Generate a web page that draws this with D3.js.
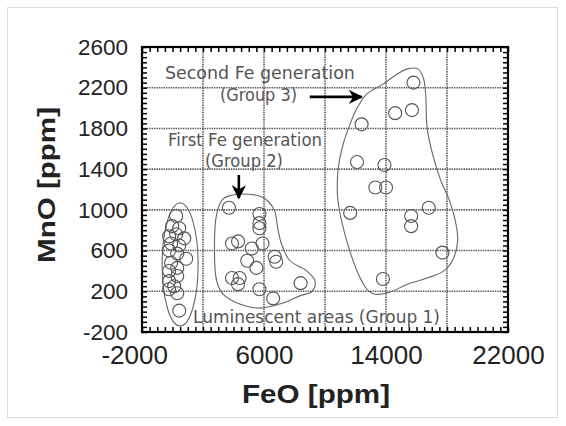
<!DOCTYPE html>
<html>
<head>
  <meta charset="utf-8">
  <title>MnO vs FeO</title>
  <script src="https://d3js.org/d3.v7.min.js"></script>
  <style>
    body { margin: 0; background: #fff; }
    .grid line { stroke: #555; stroke-width: 1.6; stroke-dasharray: 1.4,1; }
    .minor path { display: none; }
    .minor line { stroke: #000; stroke-width: 1.5; }
    .lab path, .lab line { display: none; }
    .lab text { font-family: "Liberation Sans", Arial, sans-serif; fill: #222; }
    .note { font-family: "DejaVu Sans", sans-serif; font-weight: normal; fill: #555; }
    .pt { fill: none; stroke: #555; stroke-width: 1.1; }
    .hull { fill: none; stroke: #666; stroke-width: 1.1; }
  </style>
</head>
<body>
<svg width="566" height="426"></svg>
<script>
// values (ppm)
var group1 = [[240, 940], [-20, 840], [440, 820], [-220, 740], [240, 760], [770, 720], [-90, 670],
  [440, 650], [-220, 600], [310, 570], [900, 520], [-90, 480], [310, 430], [-220, 400], [310, 350],
  [-220, 300], [110, 250], [-220, 220], [310, 180], [440, 10]];
var group2 = [[3700, 1020], [5700, 960], [5700, 870], [5700, 820], [3900, 670], [4300, 690], [5900, 670],
  [5200, 620], [6700, 540], [6800, 490], [4900, 500], [5500, 430], [3900, 330], [4400, 330], [4300, 270],
  [5700, 220], [8400, 280], [6600, 130]];
var group3 = [[15800, 2250], [14600, 1950], [15700, 1980], [12400, 1840], [12100, 1470], [13900, 1440],
  [13300, 1220], [14000, 1220], [11650, 970], [16800, 1020], [15650, 940], [15650, 840], [17700, 580],
  [13800, 320]];

// hand drawn outlines round the groups
var ellipse1 = {cx: 500, cy: 463, rx: 1180, ry: 604};
var outline2 = [[4400, 1156], [5700, 1136], [6250, 1087], [6700, 990], [6900, 820], [7150, 665], [7700, 500],
  [8800, 400], [9350, 300], [9150, 200], [8350, 155], [7250, 85], [5700, 35], [4400, 75], [3300, 175],
  [2900, 300], [2750, 625], [2900, 960], [3300, 1105], [3950, 1146]];
var outline3 = [[15400, 2385], [16100, 2385], [16450, 2295], [16600, 2140], [16700, 1800], [17050, 1550],
  [17600, 1285], [18100, 1115], [18550, 890], [18700, 695], [18400, 515], [17800, 400], [16700, 330],
  [15400, 270], [14150, 185], [13150, 175], [12750, 220], [12100, 400], [11300, 765], [10850, 1090],
  [10850, 1380], [11200, 1650], [11650, 1845], [12100, 2000], [12750, 2140], [13800, 2235], [14750, 2335]];

var xLabels = [-2000, 6000, 14000, 22000];
var yLabels = [-200, 200, 600, 1000, 1400, 1800, 2200, 2600];
var xGrid = [2000, 6000, 10000, 14000, 18000];
var yGrid = [200, 600, 1000, 1400, 1800, 2200];

var notes = [
  {text: "Second Fe generation", x: -500, y: 2285, len: 190},
  {text: "(Group 3)", x: 3115, y: 2069, len: 77},
  {text: "First Fe generation", x: -295, y: 1627, len: 154},
  {text: "(Group 2)", x: 2131, y: 1421, len: 78},
  {text: "Luminescent areas (Group 1)", x: 1344, y: -112, len: 247}
];
var arrows = [
  {x1: 9000, y1: 2110, x2: 12400, y2: 2110},
  {x1: 4350, y1: 1342, x2: 4350, y2: 1116}
];

var plotL = 142, plotR = 508, plotT = 47, plotB = 332;

var svg = d3.select("svg");
svg.append("rect").attr("x", 7.5).attr("y", 7.5).attr("width", 550).attr("height", 410)
    .attr("fill", "#fff").attr("stroke", "#ddd");

var x = d3.scaleLinear().domain([-2000, 22000]).range([plotL, plotR]);
var y = d3.scaleLinear().domain([-200, 2600]).range([plotB, plotT]);
var fmt = function(d) { return String(d); };

// grid
svg.append("g").attr("class", "grid").selectAll("line").data(xGrid).enter().append("line")
    .attr("x1", function(d) { return x(d); }).attr("x2", function(d) { return x(d); })
    .attr("y1", plotT).attr("y2", plotB);
svg.append("g").attr("class", "grid").selectAll("line").data(yGrid).enter().append("line")
    .attr("y1", function(d) { return y(d); }).attr("y2", function(d) { return y(d); })
    .attr("x1", plotL).attr("x2", plotR);

// inward minor ticks on all four sides
var xMinor = d3.range(-2000, 22001, 500), yMinor = d3.range(-200, 2601, 50);
svg.append("g").attr("class", "minor").attr("transform", "translate(0," + plotB + ")")
    .call(d3.axisBottom(x).tickValues(xMinor).tickSize(-5).tickFormat(""));
svg.append("g").attr("class", "minor").attr("transform", "translate(0," + plotT + ")")
    .call(d3.axisTop(x).tickValues(xMinor).tickSize(-5).tickFormat(""));
svg.append("g").attr("class", "minor").attr("transform", "translate(" + plotL + ",0)")
    .call(d3.axisLeft(y).tickValues(yMinor).tickSize(-5).tickFormat(""));
svg.append("g").attr("class", "minor").attr("transform", "translate(" + plotR + ",0)")
    .call(d3.axisRight(y).tickValues(yMinor).tickSize(-5).tickFormat(""));

svg.append("rect").attr("x", plotL).attr("y", plotT).attr("width", plotR - plotL).attr("height", plotB - plotT)
    .attr("fill", "none").attr("stroke", "#000").attr("stroke-width", 2.2);

// tick labels
var xl = svg.append("g").attr("class", "lab").attr("transform", "translate(0," + plotB + ")")
    .call(d3.axisBottom(x).tickValues(xLabels).tickSize(0).tickPadding(14).tickFormat(fmt));
xl.selectAll("text").style("font-size", "26px")
    .attr("dx", function(d) { return d < 0 ? "-0.3em" : 0; });
var yl = svg.append("g").attr("class", "lab").attr("transform", "translate(" + (plotL - 14) + ",0)")
    .call(d3.axisLeft(y).tickValues(yLabels).tickSize(0).tickPadding(0).tickFormat(fmt));
yl.selectAll("text").style("font-size", "22.5px");

// axis titles
svg.append("text").attr("x", 316).attr("y", 403).attr("text-anchor", "middle")
    .attr("textLength", 148).attr("lengthAdjust", "spacingAndGlyphs")
    .style("font-family", "Liberation Sans, Arial, sans-serif").style("font-weight", "bold")
    .style("font-size", "26px").style("fill", "#222").text("FeO [ppm]");
svg.append("text").attr("transform", "translate(55,185) rotate(-90)").attr("text-anchor", "middle")
    .attr("textLength", 156).attr("lengthAdjust", "spacingAndGlyphs")
    .style("font-family", "Liberation Sans, Arial, sans-serif").style("font-weight", "bold")
    .style("font-size", "24px").style("fill", "#222").text("MnO [ppm]");

// group outlines
var curve = d3.line().x(function(d) { return x(d[0]); }).y(function(d) { return y(d[1]); })
    .curve(d3.curveCatmullRomClosed.alpha(0.5));
svg.append("ellipse").attr("class", "hull")
    .attr("cx", x(ellipse1.cx)).attr("cy", y(ellipse1.cy))
    .attr("rx", x(ellipse1.cx + ellipse1.rx) - x(ellipse1.cx))
    .attr("ry", y(ellipse1.cy) - y(ellipse1.cy + ellipse1.ry));
svg.append("path").attr("class", "hull").attr("d", curve(outline2));
svg.append("path").attr("class", "hull").attr("d", curve(outline3));

// points
[group1, group2, group3].forEach(function(g) {
  svg.append("g").selectAll("circle").data(g).enter().append("circle")
      .attr("class", "pt").attr("r", 6.5)
      .attr("cx", function(d) { return x(d[0]); })
      .attr("cy", function(d) { return y(d[1]); });
});

// notes and arrows
svg.selectAll(".note").data(notes).enter().append("text").attr("class", "note")
    .attr("x", function(d) { return x(d.x); }).attr("y", function(d) { return y(d.y); })
    .attr("textLength", function(d) { return d.len; }).attr("lengthAdjust", "spacingAndGlyphs")
    .style("font-size", "18px").text(function(d) { return d.text; });

svg.append("defs").append("marker").attr("id", "head")
    .attr("viewBox", "0 0 10 10").attr("refX", 9).attr("refY", 5)
    .attr("markerWidth", 6.5).attr("markerHeight", 5.5).attr("orient", "auto")
  .append("path").attr("d", "M0,0L10,5L0,10L3,5Z").attr("fill", "#000");
svg.selectAll(".arrow").data(arrows).enter().append("line").attr("class", "arrow")
    .attr("x1", function(d) { return x(d.x1); }).attr("y1", function(d) { return y(d.y1); })
    .attr("x2", function(d) { return x(d.x2); }).attr("y2", function(d) { return y(d.y2); })
    .attr("stroke", "#000").attr("stroke-width", 2.6).attr("marker-end", "url(#head)");
</script>
</body>
</html>
